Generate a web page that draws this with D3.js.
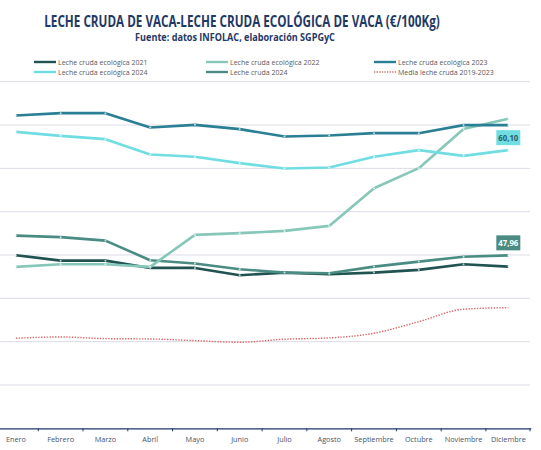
<!DOCTYPE html>
<html>
<head>
<meta charset="utf-8">
<script src="https://cdn.jsdelivr.net/npm/d3@7"></script>
<style>
  body { margin: 0; background: #fff; }
  svg { display: block; }
</style>
</head>
<body>
<svg id="chart" width="541" height="450"></svg>
<script>
// months on the x axis
const months = ['Enero', 'Febrero', 'Marzo', 'Abril', 'Mayo', 'Junio', 'Julio',
    'Agosto', 'Septiembre', 'Octubre', 'Noviembre', 'Diciembre'];

// €/100Kg
const eco2021 = [47.98, 47.35, 47.35, 46.51, 46.51, 45.67, 45.97, 45.78, 45.97, 46.28, 46.94, 46.66];
const eco2022 = [46.63, 46.94, 46.94, 46.63, 50.32, 50.52, 50.78, 51.36, 55.71, 58.02, 62.53, 63.72];
const eco2023 = [64.10, 64.37, 64.37, 62.71, 63.02, 62.53, 61.67, 61.79, 62.06, 62.06, 62.99, 62.99];
const eco2024 = [62.21, 61.75, 61.37, 59.59, 59.33, 58.60, 57.98, 58.09, 59.33, 60.10, 59.44, 60.10];
const cruda2024 = [50.24, 50.06, 49.66, 47.40, 47.01, 46.36, 45.97, 45.90, 46.66, 47.24, 47.80, 47.96];
const media1923 = [38.39, 38.54, 38.35, 38.31, 38.12, 37.93, 38.28, 38.43, 38.97, 40.31, 41.74, 41.93];

const gridValues = [33, 38, 43, 48, 53, 58, 63, 68];

const series = [
    {name: 'Leche cruda ecológica 2021', values: eco2021, color: '#1f5250', col: 0, row: 0},
    {name: 'Leche cruda ecológica 2022', values: eco2022, color: '#86c7b9', col: 1, row: 0},
    {name: 'Leche cruda ecológica 2023', values: eco2023, color: '#2b7f95', col: 2, row: 0},
    {name: 'Leche cruda ecológica 2024', values: eco2024, color: '#70dde2', col: 0, row: 1},
    {name: 'Leche cruda 2024', values: cruda2024, color: '#4a8c83', col: 1, row: 1},
    {name: 'Media leche cruda 2019-2023', values: media1923, color: '#e06666', col: 2, row: 1, dotted: true}
];

const svg = d3.select('#chart');

const x = d3.scaleBand().domain(months).range([-6.5, 530.7]).paddingInner(0).paddingOuter(0);
const y = d3.scaleLinear().domain([28, 68]).range([428.3, 81.7]);
const cx = m => x(m) + x.bandwidth() / 2;

const font = '"Liberation Sans Narrow", "Open Sans", sans-serif';

// squeeze a text horizontally so it spans the given width (condensed look)
function squeezed(sel, px, py, width, size, txt) {
    const t = sel.append('text')
        .attr('text-anchor', 'middle')
        .style('font-family', font)
        .style('font-weight', 'bold').style('font-size', size + 'px')
        .style('fill', '#1f3864')
        .text(txt);
    const len = t.node().getComputedTextLength();
    t.attr('transform', `translate(${px},${py}) scale(${width / len},1)`);
    return t;
}

// title
squeezed(svg, 242, 26.5, 396, 15.5, 'LECHE CRUDA DE VACA-LECHE CRUDA ECOLÓGICA DE VACA (€/100Kg)');
squeezed(svg, 235, 41, 200, 10.5, 'Fuente: datos INFOLAC, elaboración SGPGyC');

// legend
const colX = [34, 206, 374];
const legend = svg.append('g').selectAll('g')
    .data(series).join('g')
    .attr('transform', d => `translate(${colX[d.col]},${62 + d.row * 10})`);

legend.append('line')
    .attr('x1', 0).attr('x2', 22).attr('y1', 0).attr('y2', 0)
    .attr('stroke', d => d.color)
    .attr('stroke-width', d => d.dotted ? 1.3 : 2.4)
    .attr('stroke-dasharray', d => d.dotted ? '1.3,1.3' : null);

legend.append('text')
    .attr('x', 24).attr('y', 2.5)
    .style('font-family', font)
    .style('font-size', '7px')
    .style('fill', '#595959')
    .text(d => d.name);

// gridlines
svg.append('g')
    .selectAll('line')
    .data(gridValues).join('line')
    .attr('x1', 0).attr('x2', 530)
    .attr('y1', d => y(d)).attr('y2', d => y(d))
    .attr('stroke', '#dcdce6').attr('stroke-width', 1);

// x axis
const xAxis = svg.append('g')
    .attr('transform', `translate(0,${y(28)})`)
    .call(d3.axisBottom(x).tickSize(0).tickPadding(9));
xAxis.select('.domain').attr('stroke', '#1f3864').attr('stroke-width', 1.2);
xAxis.selectAll('text')
    .style('font-family', font)
    .style('font-size', '7.3px')
    .style('fill', '#44546a');

xAxis.selectAll('.bound')
    .data(months.slice(1).concat(['end'])).join('line')
    .attr('class', 'bound')
    .attr('x1', d => d === 'end' ? x.range()[1] - 0.7 : x(d))
    .attr('x2', d => d === 'end' ? x.range()[1] - 0.7 : x(d))
    .attr('y1', 0).attr('y2', 3)
    .attr('stroke', '#1f3864').attr('stroke-width', 1);

// lines
const lineGen = d3.line().x((d, i) => cx(months[i])).y(d => y(d));
const curveGen = d3.line().x((d, i) => cx(months[i])).y(d => y(d)).curve(d3.curveMonotoneX);

const drawOrder = [series[5], series[0], series[4], series[1], series[3], series[2]];

drawOrder.forEach(s => {
    svg.append('path')
        .datum(s.values)
        .attr('fill', 'none')
        .attr('stroke', s.color)
        .attr('stroke-width', s.dotted ? 1.4 : 2.6)
        .attr('stroke-dasharray', s.dotted ? '1.4,1.4' : null)
        .attr('stroke-linejoin', 'round')
        .attr('d', s.dotted ? curveGen(s.values) : lineGen(s.values));

    if (!s.dotted) {
        svg.append('g')
            .selectAll('circle')
            .data(s.values).join('circle')
            .attr('cx', (d, i) => cx(months[i]))
            .attr('cy', d => y(d))
            .attr('r', 1)
            .attr('fill', '#ffffff')
            .attr('fill-opacity', 0.7);
    }
});

// data labels on December
const labels = [
    {s: series[3], fill: '#70dde2', textColor: '#2b5f6a'},
    {s: series[4], fill: '#4a8c83', textColor: '#ffffff'}
];

labels.forEach(l => {
    const v = l.s.values[11];
    const px = cx('Diciembre');
    const py = y(v);
    const g = svg.append('g');
    g.append('rect')
        .attr('x', px - 12).attr('y', py - 20)
        .attr('width', 24).attr('height', 15)
        .attr('fill', l.fill);
    g.append('text')
        .attr('x', px).attr('y', py - 9)
        .attr('text-anchor', 'middle')
        .attr('textLength', 20).attr('lengthAdjust', 'spacingAndGlyphs')
        .style('font-family', font)
        .style('font-weight', 'bold')
        .style('font-size', '9.5px')
        .style('fill', l.textColor)
        .text(d3.format('.2f')(v).replace('.', ','));
});
</script>
</body>
</html>
